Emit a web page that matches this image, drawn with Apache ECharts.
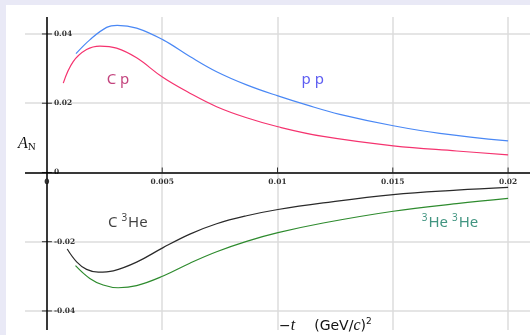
<!DOCTYPE html>
<html><head><meta charset="utf-8">
<script src="https://cdn.jsdelivr.net/npm/echarts@6/dist/echarts.min.js"></script>
<style>
html,body{margin:0;padding:0;background:#e9e9f6;overflow:hidden;}
#c{position:absolute;left:6px;top:5px;width:524px;height:330px;background:#fff;}
</style></head><body><div id="c"></div>
<script>
// tick values
const xTicks = [0, 0.005, 0.01, 0.015, 0.02];
const yTicks = [-0.04, -0.02, 0, 0.02, 0.04];

// p p  (blue)
const ppT = [0.00126,0.00186,0.00259,0.00305,0.00389,0.00504,0.0062,0.00736,0.00866,0.01002,0.01126,0.0127,0.01502,0.01704,0.02];
const ppA = [0.0343,0.0383,0.0419,0.0425,0.0417,0.0383,0.0335,0.0291,0.0253,0.0221,0.0195,0.0168,0.0135,0.0113,0.0091];
// C p  (pink)
const cpT = [0.00071,0.00114,0.00172,0.0023,0.00302,0.00389,0.00504,0.0062,0.00736,0.00866,0.01002,0.01198,0.01502,0.01777,0.02];
const cpA = [0.0258,0.0320,0.0355,0.0365,0.0359,0.0331,0.0274,0.0229,0.0190,0.0158,0.0132,0.0104,0.0077,0.0062,0.0051];
// C 3He (black)
const cheT = [0.00088,0.00129,0.00172,0.00223,0.00288,0.00389,0.00504,0.0062,0.00736,0.00866,0.01002,0.01198,0.01502,0.01777,0.02];
const cheA = [-0.0221,-0.0258,-0.0280,-0.0288,-0.0284,-0.0259,-0.0217,-0.0178,-0.0148,-0.0125,-0.0107,-0.0088,-0.0064,-0.0051,-0.0043];
// 3He 3He (green)
const hhT = [0.00124,0.00186,0.00244,0.00309,0.00389,0.00504,0.0062,0.00736,0.00866,0.01002,0.01198,0.01502,0.01777,0.02];
const hhA = [-0.0269,-0.0306,-0.0325,-0.0333,-0.0327,-0.0299,-0.0262,-0.0229,-0.0199,-0.0174,-0.0146,-0.0112,-0.0090,-0.0075];

// annotation anchors (data coords) and texts
const noteT = [0.00308, 0.01153, 0.00351, 0.01748];
const noteA = [0.0267, 0.0267, -0.0146, -0.0146];
const noteText = ['{cp|C p}', '{pp|p p}', '{bk|C }{bks|3}{bk|He}', '{gs|3}{g|He }{gs|3}{g|He}'];

const zip = (a, b) => a.map((v, i) => [v, b[i]]);
const tickFont = {fontFamily: 'DejaVu Serif', fontSize: 7.5, fontWeight: 'bold', color: '#000'};
const fmt = v => (v === 0 ? '0' : String(v));
const lineS = (name, t, a, color) => ({
  name, type: 'line', data: zip(t, a), smooth: 0.4, showSymbol: false, symbol: 'none',
  lineStyle: {color, width: 1.2}, z: 3
});
const sans = 'Noto Sans';
const rich = {
  cp: {fontFamily: sans, fontSize: 15, color: '#b4145c', lineHeight: 20},
  pp: {fontFamily: sans, fontSize: 15, color: '#3434ee', lineHeight: 20},
  bk: {fontFamily: sans, fontSize: 15, color: '#111', lineHeight: 20},
  bks: {fontFamily: sans, fontSize: 10, color: '#111', verticalAlign: 'top', lineHeight: 20, padding: [0,1,0,0]},
  g: {fontFamily: sans, fontSize: 15, color: '#137a62', lineHeight: 20},
  gs: {fontFamily: sans, fontSize: 10, color: '#137a62', verticalAlign: 'top', lineHeight: 20, padding: [0,1,0,0]}
};
const xTickMarks = xTicks.filter(v => v !== 0);

const chart = echarts.init(document.getElementById('c'), null, {renderer: 'canvas'});
chart.setOption({
  animation: false,
  grid: {left: 19, right: 0, top: 12, bottom: 5, containLabel: false},
  xAxis: {
    type: 'value', min: -0.00095, max: 0.02095,
    axisLine: {show: false, onZero: false},
    axisTick: {show: false, customValues: xTicks},
    axisLabel: {show: false, customValues: xTicks},
    splitLine: {show: true, lineStyle: {color: '#dcdcdc', width: 1.5}}
  },
  yAxis: {
    type: 'value', min: -0.0455, max: 0.0449,
    axisLine: {show: false, onZero: false},
    axisTick: {show: false, customValues: yTicks},
    axisLabel: {show: false, customValues: yTicks},
    splitLine: {show: true, lineStyle: {color: '#dcdcdc', width: 1.5}}
  },
  series: [
    lineS('p p', ppT, ppA, '#4a88f5'),
    lineS('C p', cpT, cpA, '#f5336f'),
    lineS('C 3He', cheT, cheA, '#2a2a2a'),
    lineS('3He 3He', hhT, hhA, '#2e8b2e'),
    { // axis lines through the origin
      type: 'line', data: [], silent: true, z: 6,
      markLine: {silent: true, symbol: ['none', 'none'], animation: false,
        lineStyle: {color: '#000', width: 1.5, type: 'solid'}, label: {show: false},
        data: [{xAxis: 0}, {yAxis: 0}]}
    },
    { // y ticks (crossing the axis)
      type: 'scatter', data: yTicks.map(v => [0, v]), symbol: 'rect', symbolSize: [10, 1],
      itemStyle: {color: '#000'}, silent: true, z: 7
    },
    { // x ticks (upward)
      type: 'scatter', data: xTickMarks.map(v => [v, 0]), symbol: 'rect', symbolSize: [1, 5],
      symbolOffset: [0, -2.5], itemStyle: {color: '#000'}, silent: true, z: 7
    },
    { // y tick labels
      type: 'scatter', data: yTicks.map(v => [0, v]), symbolSize: 0, silent: true, z: 8,
      label: Object.assign({show: true, position: 'right', distance: 7,
        formatter: p => fmt(p.value[1])}, tickFont)
    },
    { // x tick labels
      type: 'scatter', data: xTicks.map(v => [v, 0]), symbolSize: 0, silent: true, z: 8,
      label: Object.assign({show: true, position: 'bottom', distance: 6,
        formatter: p => fmt(p.value[0])}, tickFont)
    },
    { // annotations
      type: 'scatter', data: zip(noteT, noteA), symbolSize: 0, silent: true,
      label: {show: true, position: 'inside', formatter: p => noteText[p.dataIndex], rich}
    }
  ],
  graphic: [
    {type: 'text', left: 12, top: 131, style: {
      text: '{a|A}{n|N}',
      rich: {a: {fontFamily: 'Liberation Serif', fontStyle: 'italic', fontSize: 16, fill: '#111', lineHeight: 18},
             n: {fontFamily: 'Liberation Serif', fontSize: 11, fill: '#111', verticalAlign: 'bottom', lineHeight: 14}}
    }},
    {type: 'text', left: 273, top: 312, style: {
      text: '{s|\u2212}{i|t}{g|(GeV/}{i|c}{s|)}{sup|2}',
      rich: {s: {fontFamily: 'DejaVu Sans', fontSize: 14, fill: '#111', lineHeight: 18},
             g: {fontFamily: 'DejaVu Sans', fontSize: 14, fill: '#111', lineHeight: 18, padding: [0, 0, 0, 19]},
             i: {fontFamily: 'Liberation Serif', fontStyle: 'italic', fontSize: 16, fill: '#111', lineHeight: 18},
             sup: {fontFamily: 'DejaVu Sans', fontSize: 9, fill: '#111', verticalAlign: 'top', lineHeight: 18}}
    }}
  ]
});
</script></body></html>
